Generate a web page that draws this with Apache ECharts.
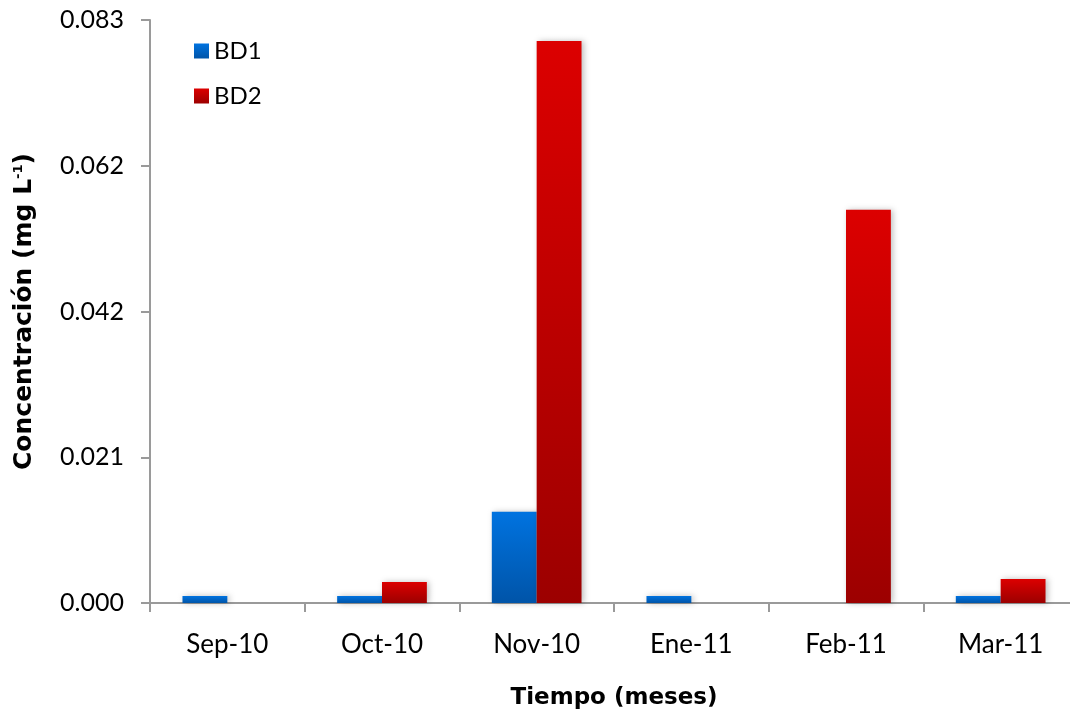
<!DOCTYPE html>
<html>
<head>
<meta charset="utf-8">
<script src="https://cdn.jsdelivr.net/npm/echarts@6/dist/echarts.min.js"></script>
<style>html,body{margin:0;padding:0;background:#fff;}#c{width:1070px;height:715px;}</style>
</head>
<body>
<div id="c"></div>
<script>
const categories = ['Sep-10','Oct-10','Nov-10','Ene-11','Feb-11','Mar-11'];
const bd1 = [0.001, 0.001, 0.013, 0.001, 0, 0.001];
const bd2 = [0, 0.003, 0.080, 0, 0.056, 0.0034];
const yTickLabels = ['0.000','0.021','0.042','0.062','0.083'];
const yMax = 0.083;
const yInterval = yMax / 4;

const font = 'Lato';
const boldFont = 'DejaVu Sans';
const chart = echarts.init(document.getElementById('c'), null, {renderer:'canvas'});
function grad(top, bottom){
  return new echarts.graphic.LinearGradient(0,0,0,1,[{offset:0,color:top},{offset:1,color:bottom}]);
}
const shadow = {shadowBlur:6, shadowColor:'rgba(0,0,0,0.25)', shadowOffsetX:2, shadowOffsetY:0};
chart.setOption({
  animation:false,
  backgroundColor:'#fff',
  grid:{left:150, right:-8, top:20, bottom:112, containLabel:false, outerBoundsMode:'none'},
  legend:{
    orient:'vertical', left:189, top:34, itemWidth:15, itemHeight:15, itemGap:21,
    icon:'rect',
    textStyle:{fontFamily:font, fontSize:24, color:'#000'},
    data:['BD1','BD2']
  },
  xAxis:{
    type:'category', data:categories,
    axisLine:{lineStyle:{color:'#9a9a9a', width:2}},
    axisTick:{show:true, alignWithLabel:false, length:9, lineStyle:{color:'#9a9a9a', width:2}},
    axisLabel:{fontFamily:font, fontSize:26, color:'#000', margin:29},
    name:'Tiempo (meses)', nameLocation:'middle', nameGap:84,
    nameTextStyle:{fontFamily:boldFont, fontSize:23, fontWeight:'bold', color:'#000'}
  },
  yAxis:{
    type:'value', min:0, max:yMax, interval:yInterval,
    splitLine:{show:false},
    axisLine:{show:true, lineStyle:{color:'#9a9a9a', width:2}},
    axisTick:{show:true, length:9, lineStyle:{color:'#9a9a9a', width:2}},
    axisLabel:{fontFamily:font, fontSize:25, color:'#000', margin:26,
      formatter:function(v){ return yTickLabels[Math.round(v / yInterval)]; }},
    name:'{a|Concentración (mg L}{s|-1}{a|)}', nameLocation:'middle', nameGap:113, nameRotate:90,
    nameTextStyle:{fontFamily:boldFont, fontSize:25, fontWeight:'bold', color:'#000',
      rich:{
        a:{fontFamily:boldFont, fontSize:25, fontWeight:'bold', color:'#000'},
        s:{fontFamily:boldFont, fontSize:13, fontWeight:'bold', color:'#000', verticalAlign:'top', padding:[0,0,11,0]}
      }}
  },
  series:[
    {name:'BD1', type:'bar', data:bd1, barGap:'0%', barCategoryGap:'42%',
      itemStyle:Object.assign({color:grad('#0073e0','#0054a8')}, shadow)},
    {name:'BD2', type:'bar', data:bd2,
      itemStyle:Object.assign({color:grad('#dc0000','#9c0000')}, shadow)}
  ]
});
</script>
</body>
</html>
